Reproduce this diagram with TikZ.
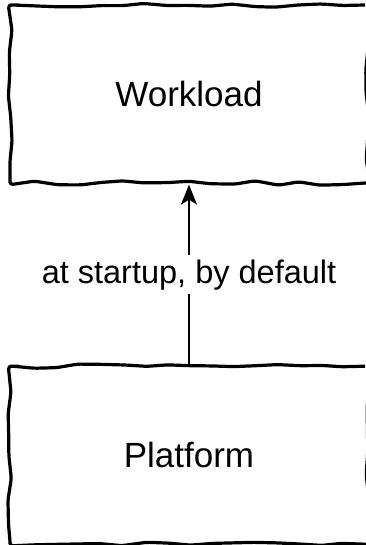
\documentclass[tikz,border=0pt]{standalone}
\usepackage{fontspec}
\setmainfont{Liberation Sans}
\usepackage{tikz}
\usetikzlibrary{positioning,arrows.meta,decorations.pathmorphing}

\begin{document}
\pgfmathsetseed{7}
\begin{tikzpicture}[x=1pt,y=-1pt,
			sketch node/.style={rectangle, draw=black, line width=3.2pt, fill=white, text=black, align=center,
				minimum width=358pt, minimum height=178pt, font=\fontsize{35}{42}\selectfont,
				decorate, decoration={random steps, segment length=22pt, amplitude=2.2pt}, rounded corners=3pt},
			label node/.style={fill=white, inner sep=4pt, font=\fontsize{32.5}{39}\selectfont}]
			\useasboundingbox (0,0) rectangle (366,545);
			
			\node[sketch node] (workload) at (189,94) {Workload};
			\node[sketch node, below=180pt of workload] (platform) {Platform};
			
			%\draw[dashed] (workload) -- (platform);
			\draw[line width=2.4pt, -{Stealth[length=20pt, width=16pt, inset=5pt]}]
			(platform.north) -- node[label node] (startup) {at startup, by default} (workload.south);
			
		\end{tikzpicture}
\end{document}
